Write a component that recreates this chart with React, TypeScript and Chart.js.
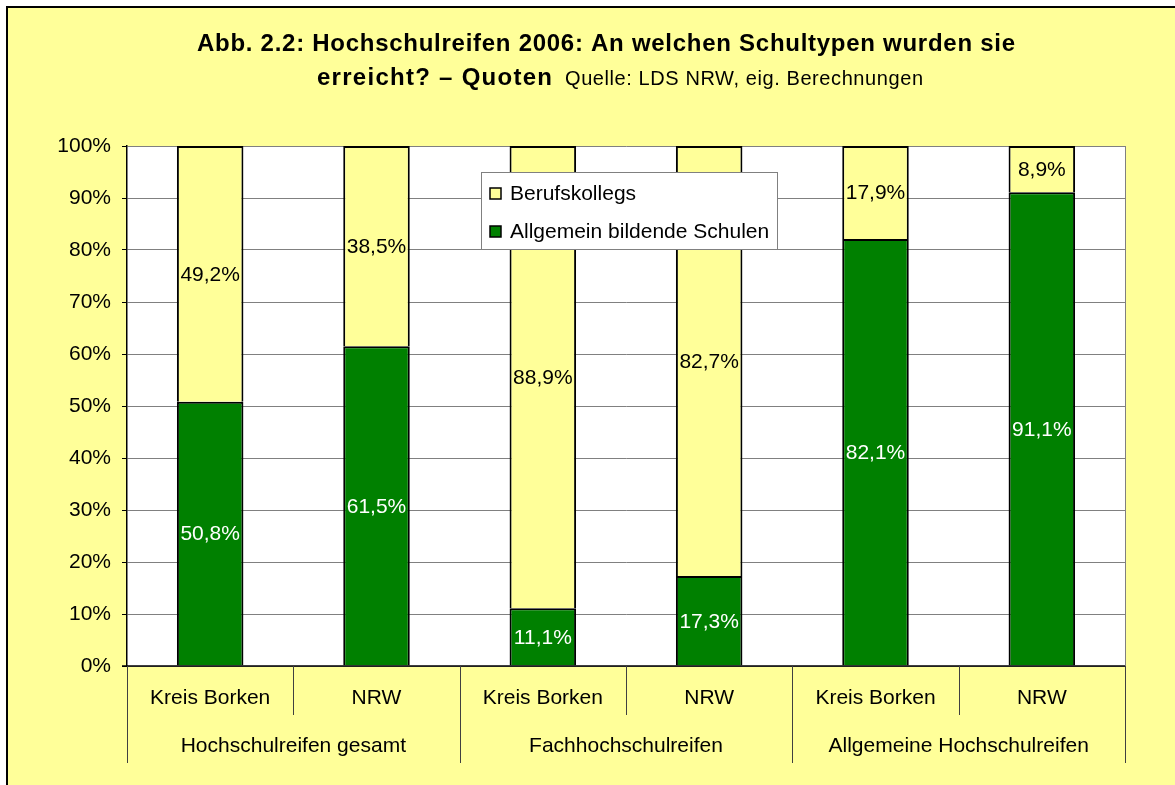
import React, { useEffect, useRef } from "react";
import { Chart, registerables } from "chart.js";

Chart.register(...registerables);

// ---- Data ----
const subCategories = ["Kreis Borken", "NRW", "Kreis Borken", "NRW", "Kreis Borken", "NRW"];
const groupLabels = ["Hochschulreifen gesamt", "Fachhochschulreifen", "Allgemeine Hochschulreifen"];
const allgemeinValues = [50.8, 61.5, 11.1, 17.3, 82.1, 91.1];
const berufskollegValues = [49.2, 38.5, 88.9, 82.7, 17.9, 8.9];
const seriesNames = ["Berufskollegs", "Allgemein bildende Schulen"];
const titleLine1 = "Abb. 2.2: Hochschulreifen 2006: An welchen Schultypen wurden sie";
const titleLine2Bold = "erreicht? – Quoten";
const titleLine2Normal = "Quelle: LDS NRW, eig. Berechnungen";

// ---- Styles ----
const FONT = "'Liberation Sans', Arial, sans-serif";
const BG = "#FFFF99";
const YELLOW = "#FFFF99";
const GREEN = "#008000";

function fitText(ctx: CanvasRenderingContext2D, text: string, x: number, y: number, width: number, font: string) {
  ctx.save();
  ctx.font = font;
  (ctx as any).letterSpacing = "0px";
  const w = ctx.measureText(text).width;
  const n = Math.max(1, text.length - 1);
  const ls = (width - w) / n;
  (ctx as any).letterSpacing = ls + "px";
  ctx.textAlign = "left";
  ctx.textBaseline = "alphabetic";
  ctx.fillText(text, x, y);
  ctx.restore();
}

const decorPlugin = {
  id: "decor",
  beforeDraw(chart: any) {
    const { ctx, chartArea, width, height } = chart;
    ctx.save();
    ctx.fillStyle = "#FFFFFF";
    ctx.fillRect(0, 0, width, height);
    ctx.fillStyle = BG;
    ctx.fillRect(7, 7, width, height);
    ctx.strokeStyle = "#000000";
    ctx.lineWidth = 2;
    ctx.strokeRect(7, 7, width + 20, height + 20);
    ctx.fillStyle = "#FFFFFF";
    ctx.fillRect(chartArea.left, chartArea.top, chartArea.right - chartArea.left, chartArea.bottom - chartArea.top);
    ctx.restore();
  },
  afterDraw(chart: any) {
    const { ctx, chartArea } = chart;
    const xs = chart.scales.x;
    const { left, right, top, bottom } = chartArea;
    ctx.save();

    // Title
    ctx.fillStyle = "#000000";
    fitText(ctx, titleLine1, 197, 51, 818, `bold 24px ${FONT}`);
    fitText(ctx, titleLine2Bold, 317, 85, 235, `bold 24px ${FONT}`);
    fitText(ctx, titleLine2Normal, 565, 85, 358, `20px ${FONT}`);

    // right plot border
    ctx.strokeStyle = "#808080";
    ctx.lineWidth = 1;
    ctx.beginPath();
    ctx.moveTo(Math.round(right) + 0.5, top);
    ctx.lineTo(Math.round(right) + 0.5, bottom);
    ctx.stroke();

    // bottom axis line
    ctx.strokeStyle = "#000000";
    ctx.lineWidth = 1.5;
    ctx.beginPath();
    ctx.moveTo(left - 5, bottom);
    ctx.lineTo(right, bottom);
    ctx.stroke();

    // Category separators
    const n = subCategories.length;
    const cw = (right - left) / n;
    ctx.strokeStyle = "#404040";
    ctx.lineWidth = 1;
    for (let i = 0; i <= n; i++) {
      const x = Math.round(left + i * cw) + 0.5;
      const len = i % 2 === 0 ? 97 : 49;
      ctx.beginPath();
      ctx.moveTo(x, bottom);
      ctx.lineTo(x, bottom + len);
      ctx.stroke();
    }

    // Category labels
    ctx.fillStyle = "#000000";
    ctx.font = `21px ${FONT}`;
    ctx.textAlign = "center";
    ctx.textBaseline = "middle";
    subCategories.forEach((lab, i) => {
      ctx.fillText(lab, xs.getPixelForValue(i), bottom + 32);
    });
    groupLabels.forEach((lab, g) => {
      const cx = (xs.getPixelForValue(g * 2) + xs.getPixelForValue(g * 2 + 1)) / 2;
      ctx.fillText(lab, cx, bottom + 80);
    });

    // Data labels
    chart.data.datasets.forEach((ds: any, di: number) => {
      const meta = chart.getDatasetMeta(di);
      meta.data.forEach((el: any, i: number) => {
        const v = ds.data[i];
        const txt = v.toFixed(1).replace(".", ",") + "%";
        ctx.fillStyle = ds.labelColor;
        ctx.fillText(txt, el.x, (el.y + el.base) / 2 + 1);
      });
    });

    // Legend
    const lx = left + 354, ly = top + 26, lw = 296, lh = 77;
    ctx.fillStyle = "#FFFFFF";
    ctx.fillRect(lx, ly, lw, lh);
    ctx.strokeStyle = "#808080";
    ctx.lineWidth = 1;
    ctx.strokeRect(lx + 0.5, ly + 0.5, lw, lh);
    const items = [
      { name: seriesNames[0], color: YELLOW, cy: ly + 21 },
      { name: seriesNames[1], color: GREEN, cy: ly + 59 },
    ];
    items.forEach((it) => {
      ctx.fillStyle = it.color;
      ctx.fillRect(lx + 9, it.cy - 5, 11, 11);
      ctx.strokeStyle = "#000000";
      ctx.lineWidth = 1.5;
      ctx.strokeRect(lx + 9, it.cy - 5, 11, 11);
      ctx.fillStyle = "#000000";
      ctx.textAlign = "left";
      ctx.textBaseline = "middle";
      ctx.font = `21px ${FONT}`;
      ctx.fillText(it.name, lx + 29, it.cy + 1);
    });

    ctx.restore();
  },
};

export default function App() {
  const ref = useRef<HTMLCanvasElement>(null);
  useEffect(() => {
    document.body.style.margin = "0";
    const canvas = ref.current!;
    const chart = new Chart(canvas, {
      type: "bar",
      data: {
        labels: subCategories,
        datasets: [
          {
            label: seriesNames[1],
            data: allgemeinValues,
            backgroundColor: GREEN,
            borderColor: "#000000",
            borderWidth: 2,
            borderSkipped: "start",
            barPercentage: 0.4,
            categoryPercentage: 1,
            labelColor: "#FFFFFF",
          } as any,
          {
            label: seriesNames[0],
            data: berufskollegValues,
            backgroundColor: YELLOW,
            borderColor: "#000000",
            borderWidth: 2,
            borderSkipped: "start",
            barPercentage: 0.4,
            categoryPercentage: 1,
            labelColor: "#000000",
          } as any,
        ],
      },
      options: {
        responsive: false,
        animation: false,
        devicePixelRatio: 1,
        layout: { padding: { top: 146, right: 50, bottom: 119, left: 0 } },
        plugins: {
          legend: { display: false },
          title: { display: false },
          tooltip: { enabled: false },
        },
        scales: {
          x: {
            stacked: true,
            display: false,
          },
          y: {
            stacked: true,
            min: 0,
            max: 100,
            afterFit: (s: any) => {
              s.width = 127;
            },
            ticks: {
              stepSize: 10,
              callback: (v: any) => v + "%",
              font: { family: FONT, size: 21 },
              color: "#000000",
              padding: 11,
            },
            grid: {
              color: "#808080",
              lineWidth: 1,
              tickLength: 5,
              tickColor: "#000000",
            },
            border: { color: "#000000", width: 1.5 },
          },
        },
      },
      plugins: [decorPlugin],
    });
    return () => chart.destroy();
  }, []);
  return (
    <div style={{ width: 1175, height: 785 }}>
      <canvas ref={ref} width={1175} height={785} style={{ display: "block" }} />
    </div>
  );
}
